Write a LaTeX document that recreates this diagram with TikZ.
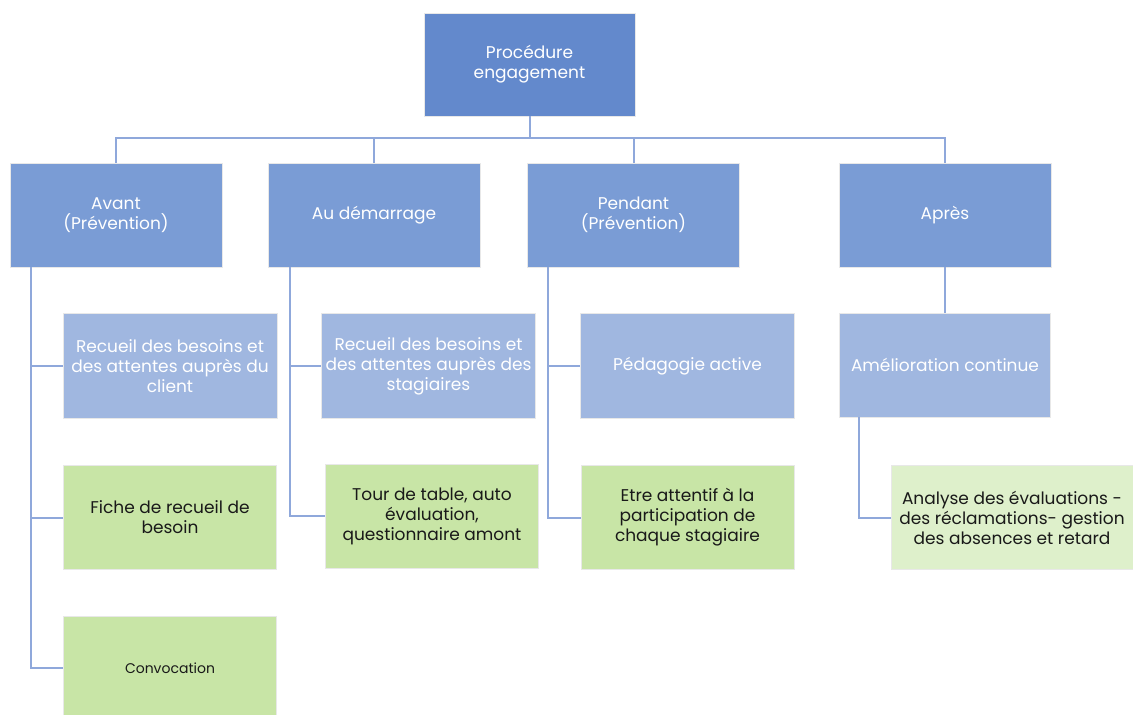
\documentclass[tikz,border=0pt]{standalone}
\usepackage{fontspec}
\setmainfont{Poppins}
\definecolor{rootblue}{RGB}{99,137,204}
\definecolor{lvlblue}{RGB}{122,156,213}
\definecolor{subblue}{RGB}{160,183,224}
\definecolor{boxgreen}{RGB}{200,229,166}
\definecolor{lightgreen}{RGB}{222,240,203}
\definecolor{linkblue}{RGB}{143,168,219}
\definecolor{rimgray}{RGB}{232,232,232}
\begin{document}
\begin{tikzpicture}[x=1pt,y=-1pt,
  boxbase/.style={rectangle, draw=rimgray, line width=0.8pt, inner sep=0pt, align=center,
    font=\fontsize{17}{20}\selectfont},
  rootbox/.style={boxbase, fill=rootblue, text=white, minimum width=211pt, minimum height=103pt},
  phasebox/.style={boxbase, fill=lvlblue, text=white, minimum width=212pt, minimum height=104pt},
  subbox/.style={boxbase, fill=subblue, text=white, minimum width=214pt, minimum height=105pt},
  greenbox/.style={boxbase, fill=boxgreen, text=black!90, minimum width=213pt, minimum height=104pt},
  palebox/.style={boxbase, fill=lightgreen, text=black!90, minimum width=242pt, minimum height=104pt},
  link/.style={draw=linkblue, line width=2pt}]
\useasboundingbox (0,0) rectangle (1133,715);
\fill[white] (0,0) rectangle (1133,715);

% root
\node[rootbox] (root) at (529.5,64.5) {Procédure\\engagement};

% phases
\node[phasebox] (avant) at (116,215) {Avant\\(Prévention)};
\node[phasebox] (demar) at (374,215) {Au démarrage};
\node[phasebox] (pend) at (633.5,215) {Pendant\\(Prévention)};
\node[phasebox] (apres) at (945,215) {Après};

% Avant children
\node[subbox] (a1) at (170,366) {Recueil des besoins et\\des attentes auprès du\\client};
\node[greenbox] (a2) at (170,517.5) {Fiche de recueil de\\besoin};
\node[greenbox] (a3) at (170,668) {\fontsize{14}{20}\selectfont Convocation};

% Au demarrage children
\node[subbox] (d1) at (428.5,366) {Recueil des besoins et\\des attentes auprès des\\stagiaires};
\node[greenbox] (d2) at (432,516) {Tour de table, auto\\évaluation,\\questionnaire amont};

% Pendant children
\node[subbox] (p1) at (687.5,366) {Pédagogie active};
\node[greenbox] (p2) at (687.5,517.5) {Etre attentif à la\\participation de\\chaque stagiaire};

% Apres children
\node[subbox, minimum width=211pt, minimum height=104pt] (r1) at (945,365) {Amélioration continue};
\node[palebox] (r2) at (1012,517.5) {Analyse des évaluations -\\des réclamations- gestion\\des absences et retard};

% top connectors
\draw[link] (root.south) -- (root.south |- 0,138) -| (avant.north);
\draw[link] (root.south |- 0,138) -| (demar.north);
\draw[link] (root.south |- 0,138) -| (pend.north);
\draw[link] (root.south |- 0,138) -| (apres.north);

% side connectors
\coordinate (avx) at ([xshift=21pt]avant.south west);
\draw[link] (avx) |- (a1.west);
\draw[link] (avx) |- (a2.west);
\draw[link] (avx) |- (a3.west);

\coordinate (dmx) at ([xshift=22pt]demar.south west);
\draw[link] (dmx) |- (d1.west);
\draw[link] (dmx) |- (d2.west);

\coordinate (pdx) at ([xshift=21pt]pend.south west);
\draw[link] (pdx) |- (p1.west);
\draw[link] (pdx) |- (p2.west);

\draw[link] (apres.south) -- (r1.north);
\coordinate (rmx) at ([xshift=20pt]r1.south west);
\draw[link] (rmx) |- (r2.west);
\end{tikzpicture}
\end{document}
